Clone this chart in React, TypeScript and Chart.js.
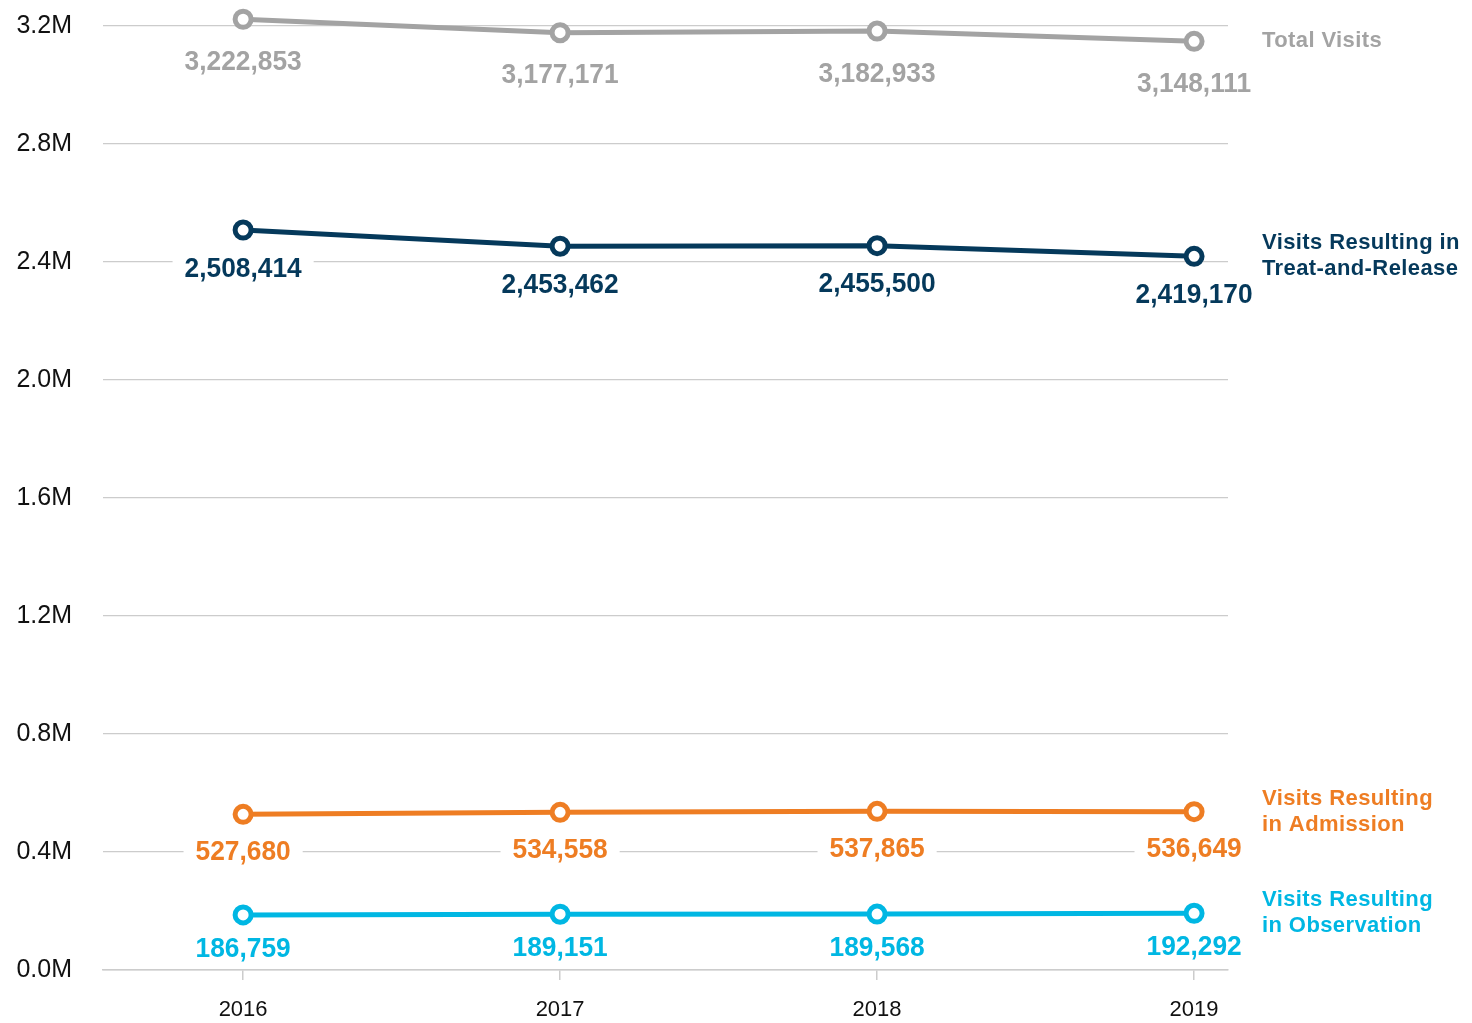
import React, { useEffect, useRef } from "react";
import { Chart, registerables } from "chart.js";

Chart.register(...registerables);

const years = [2016, 2017, 2018, 2019];
const totalVisits = [3222853, 3177171, 3182933, 3148111];
const treatAndRelease = [2508414, 2453462, 2455500, 2419170];
const admission = [527680, 534558, 537865, 536649];
const observation = [186759, 189151, 189568, 192292];

const seriesValues = [totalVisits, treatAndRelease, admission, observation];
const seriesNames = [
  ["Total Visits"],
  ["Visits Resulting in", "Treat-and-Release"],
  ["Visits Resulting", "in Admission"],
  ["Visits Resulting", "in Observation"],
];
const seriesColors = ["#a3a3a3", "#05395b", "#ee7d23", "#00b7e3"];
const labelOffsets = [42, 38, 37, 33];

const yTickValues = [0, 400000, 800000, 1200000, 1600000, 2000000, 2400000, 2800000, 3200000];

const LABEL_FONT = 'bold 28px "Liberation Sans", Arial, sans-serif';
const LABEL_SCALE_X = 0.94;
const NAME_FONT = 'bold 22px "Liberation Sans", Arial, sans-serif';

const labelPlugin = {
  id: "valueLabels",
  afterDatasetsDraw(chart: any) {
    const ctx = chart.ctx;
    const area = chart.chartArea;
    ctx.save();
    ctx.font = LABEL_FONT;
    ctx.textAlign = "center";
    ctx.textBaseline = "middle";
    const items: any[] = [];
    chart.data.datasets.forEach((ds: any, i: number) => {
      const meta = chart.getDatasetMeta(i);
      meta.data.forEach((pt: any, j: number) => {
        const text = Number(ds.data[j].y).toLocaleString("en-US");
        const w = ctx.measureText(text).width * LABEL_SCALE_X;
        items.push({ x: pt.x, y: pt.y + labelOffsets[i], text, w, color: seriesColors[i] });
      });
    });
    ctx.fillStyle = "#ffffff";
    items.forEach((it) => {
      ctx.fillRect(it.x - it.w / 2 - 12, it.y - 14, it.w + 24, 28);
    });
    items.forEach((it) => {
      ctx.save();
      ctx.translate(it.x, it.y + 1);
      ctx.scale(LABEL_SCALE_X, 1);
      ctx.fillStyle = it.color;
      ctx.fillText(it.text, 0, 0);
      ctx.restore();
    });

    ctx.font = NAME_FONT;
    (ctx as any).letterSpacing = "0.4px";
    ctx.textAlign = "left";
    chart.data.datasets.forEach((ds: any, i: number) => {
      const meta = chart.getDatasetMeta(i);
      const last = meta.data[meta.data.length - 1];
      const lines = seriesNames[i];
      const lh = 26;
      const startY = last.y - ((lines.length - 1) * lh) / 2;
      ctx.fillStyle = seriesColors[i];
      lines.forEach((ln, k) => {
        ctx.fillText(ln, area.right + 34, startY + k * lh);
      });
    });
    ctx.restore();
  },
};

export default function App() {
  const ref = useRef<HTMLCanvasElement | null>(null);
  useEffect(() => {
    if (!ref.current) return;
    const chart = new Chart(ref.current, {
      type: "line",
      data: {
        datasets: seriesValues.map((vals, i) => ({
          label: seriesNames[i].join(" "),
          data: vals.map((v, j) => ({ x: years[j], y: v })),
          borderColor: seriesColors[i],
          backgroundColor: seriesColors[i],
          borderWidth: 5,
          pointRadius: 8,
          pointHoverRadius: 8,
          pointBorderWidth: 5,
          pointBackgroundColor: "#ffffff",
          pointBorderColor: seriesColors[i],
          tension: 0,
          fill: false,
          clip: false as any,
        })),
      },
      options: {
        responsive: false,
        animation: false,
        events: [],
        layout: { padding: { top: 26, right: 244, left: 0, bottom: 0 } },
        plugins: { legend: { display: false }, tooltip: { enabled: false } },
        scales: {
          x: {
            type: "linear",
            min: 2015.558,
            max: 2019.107,
            afterBuildTicks(scale: any) {
              scale.ticks = years.map((v) => ({ value: v }));
            },
            afterFit(scale: any) {
              scale.height = 53;
              scale.paddingLeft = 0;
              scale.paddingRight = 0;
            },
            grid: {
              drawOnChartArea: false,
              drawTicks: true,
              tickLength: 10,
              color: "#cccccc",
              lineWidth: 1.5,
            },
            border: { display: true, color: "#cccccc", width: 1.5 },
            ticks: {
              autoSkip: false,
              maxRotation: 0,
              padding: 17,
              color: "#111111",
              font: { family: '"Liberation Sans", Arial, sans-serif', size: 22 },
              callback: (v: any) => String(v),
            },
          },
          y: {
            type: "linear",
            min: 0,
            max: 3200000,
            afterBuildTicks(scale: any) {
              scale.ticks = yTickValues.map((v) => ({ value: v }));
            },
            afterFit(scale: any) {
              scale.width = 103;
              scale.paddingTop = 0;
              scale.paddingBottom = 0;
            },
            grid: { drawTicks: false, color: "#cccccc", lineWidth: 1.2 },
            border: { display: false },
            ticks: {
              padding: 31,
              color: "#111111",
              font: { family: '"Liberation Sans", Arial, sans-serif', size: 25 },
              callback: (v: any) => (Number(v) / 1000000).toFixed(1) + "M",
            },
          },
        },
      },
      plugins: [labelPlugin],
    });
    return () => chart.destroy();
  }, []);
  return (
    <div style={{ position: "absolute", left: 0, top: 0, width: 1472, height: 1023, background: "#fff" }}>
      <canvas ref={ref} width={1472} height={1023} />
    </div>
  );
}
